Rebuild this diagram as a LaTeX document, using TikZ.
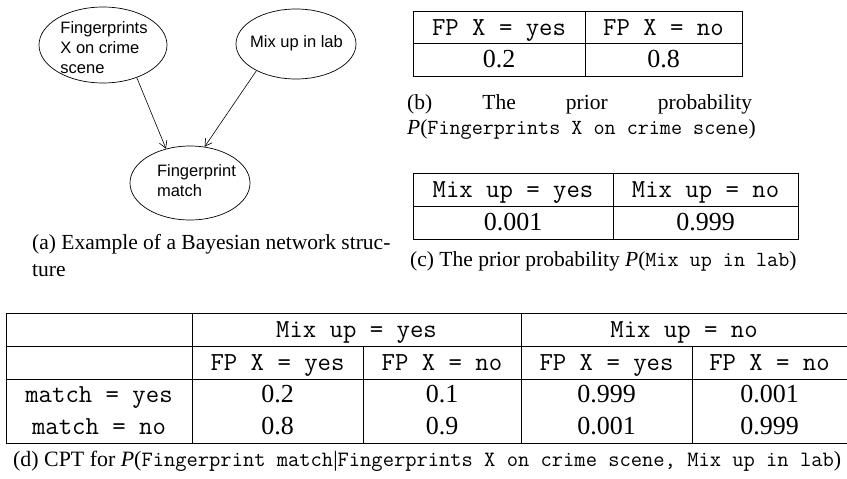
\documentclass[tikz,border=0pt]{standalone}
\usepackage{fontspec}
\setmainfont{Liberation Serif}
\newfontfamily\sansf{Liberation Sans}
\usetikzlibrary{shapes.geometric,arrows.meta}
\begin{document}
\begin{tikzpicture}[x=1pt,y=-1pt,
  bn/.style={draw, ellipse, inner sep=0pt, line width=0.7pt},
  lbl/.style={font=\sansf\fontsize{16.5}{20}\selectfont, align=left, inner sep=0pt},
  conn/.style={-{Straight Barb[length=7pt,width=8pt]}, line width=0.6pt},
  tcell/.style={font=\fontsize{26}{30}\selectfont\ttfamily, anchor=base, inner sep=0pt},
  ncell/.style={font=\fontsize{26}{30}\selectfont, anchor=base, inner sep=0pt},
  capt/.style={font=\fontsize{21.5}{27}\selectfont, anchor=base west, inner sep=0pt},
  tline/.style={line width=0.9pt}]
\useasboundingbox (0,0) rectangle (847,479);
\clip (0,0) rectangle (847,479);

% (a) network
\node[bn, minimum width=128pt, minimum height=76pt] (fp) at (103,45) {};
\node[lbl] (fpt) at (104,48) {Fingerprints\\X on crime\\scene};
\node[bn, minimum width=120pt, minimum height=70pt] (mix) at (296,44) {};
\node[lbl] (mixt) at (296.5,43) {Mix up in lab};
\node[bn, minimum width=120pt, minimum height=74pt] (m) at (190,183) {};
\node[lbl] (mt) at (196.5,181) {Fingerprint\\match};
\draw[conn] (fp.-44.6) -- (m.125.2);
\draw[conn] (mix.214.7) -- (m.68.7);
\node[capt] (capa1) at (32,249) {(a) Example of a Bayesian network struc-};
\node[capt] (capa2) at (32,276) {ture};

% (b) table
\draw[tline] (413,11) rectangle (742,76);
\draw[tline] (413,43) -- (742,43);
\draw[tline] (585,11) -- (585,76);
\node[tcell] (b11) at (499,35) {FP X = yes};
\node[tcell] (b12) at (663.5,35) {FP X = no};
\node[ncell] (b21) at (499,67) {0.2};
\node[ncell] (b22) at (663.5,67) {0.8};
\node[capt] (capb1) at (407,109) {\makebox[345pt][s]{(b) The prior probability}};
\node[capt] (capb2) at (407,134) {\textit{P}(\texttt{Fingerprints X on crime scene})};

% (c) table
\draw[tline] (413,173) rectangle (798,239);
\draw[tline] (413,206) -- (798,206);
\draw[tline] (613,173) -- (613,239);
\node[tcell] (c11) at (513,197) {Mix up = yes};
\node[tcell] (c12) at (705.5,197) {Mix up = no};
\node[ncell] (c21) at (513,230) {0.001};
\node[ncell] (c22) at (705.5,230) {0.999};
\node[capt] (capc) at (410,266) {(c) The prior probability \textit{P}(\texttt{Mix up in lab})};

% (d) table
\draw[tline] (6,313) rectangle (850,443);
\draw[tline] (6,346) -- (850,346);
\draw[tline] (6,379) -- (850,379);
\draw[tline] (192,313) -- (192,443);
\draw[tline] (521,313) -- (521,443);
\draw[tline] (363,346) -- (363,443);
\draw[tline] (692,346) -- (692,443);
\node[tcell] (dh1) at (356.5,337) {Mix up = yes};
\node[tcell] (dh2) at (684,337) {Mix up = no};
\node[tcell] (dh3) at (277.5,370) {FP X = yes};
\node[tcell] (dh4) at (442,370) {FP X = no};
\node[tcell] (dh5) at (606.5,370) {FP X = yes};
\node[tcell] (dh6) at (769.5,370) {FP X = no};
\node[tcell] (dr1) at (99,402) {match = yes};
\node[ncell] (d11) at (277.5,402) {0.2};
\node[ncell] (d12) at (442,402) {0.1};
\node[ncell] (d13) at (606.5,402) {0.999};
\node[ncell] (d14) at (769.5,402) {0.001};
\node[tcell] (dr2) at (99,434) {match = no};
\node[ncell] (d21) at (277.5,434) {0.8};
\node[ncell] (d22) at (442,434) {0.9};
\node[ncell] (d23) at (606.5,434) {0.001};
\node[ncell] (d24) at (769.5,434) {0.999};
\node[capt, font=\fontsize{21.9}{27}\selectfont] (capd) at (13,466) {(d) CPT for \textit{P}(\texttt{Fingerprint match}|\texttt{Fingerprints X on crime scene, Mix up in lab})};
\end{tikzpicture}
\end{document}
